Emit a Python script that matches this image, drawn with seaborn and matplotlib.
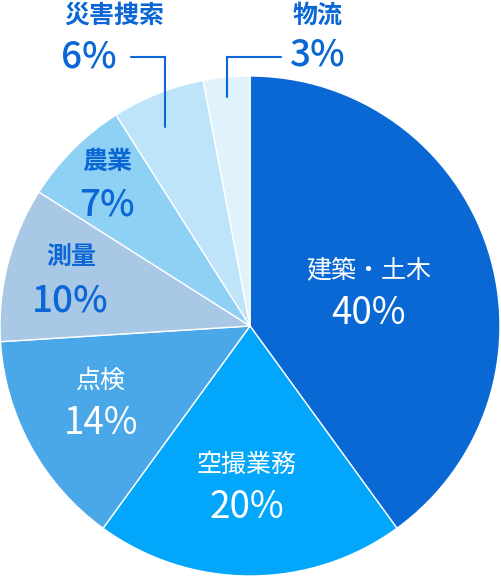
import matplotlib
matplotlib.use("Agg")
import matplotlib.pyplot as plt
import seaborn as sns

sns.set_theme(style="white")
plt.rcParams['font.family'] = ['Noto Sans CJK JP', 'DejaVu Sans']

# データ
categories = ["建築・土木", "空撮業務", "点検", "測量", "農業", "災害捜索", "物流"]
shares = [40, 20, 14, 10, 7, 6, 3]
colors = ["#0a68d4", "#02a6fa", "#4aa8e8", "#a9c8e6", "#8fd0f5", "#bde4f9", "#e0f2fc"]

TEXT_BLUE = "#0b66d6"
CX, CY, SCALE = 250, 326, 250  # 中心とスケール (px)


def px(x, y):
    # 画像のピクセル座標をデータ座標に変換
    return (x - CX) / SCALE, (CY - y) / SCALE


fig = plt.figure(figsize=(5.01, 5.77), dpi=100)
ax = fig.add_axes([0, 0, 1, 1])

ax.pie(shares, colors=colors, startangle=90, counterclock=False, radius=1.0,
       wedgeprops={"edgecolor": "white", "linewidth": 1.0})

# ラベル位置 (名前の中心, パーセントの中心), テキスト色
label_pos = [((369, 270), (369, 313)),
             ((247, 465), (247, 508)),
             ((101, 381), (101, 423)),
             ((71, 257), (70, 301)),
             ((107, 162), (107, 205)),
             ((114, 16), (89, 56)),
             ((318, 16), (318, 55))]
text_colors = ["white", "white", "white", TEXT_BLUE, TEXT_BLUE, TEXT_BLUE, TEXT_BLUE]

for name, val, (p_name, p_val), tc in zip(categories, shares, label_pos, text_colors):
    on_dark = tc == "white"
    ax.text(*px(*p_name), name, ha="center", va="center", fontsize=18,
            color=tc, fontweight="normal" if on_dark else "bold")
    ax.text(*px(*p_val), f"{val}%", ha="center", va="center", fontsize=26.5,
            color=tc, fontweight="normal" if on_dark else "medium")

# 引き出し線
for xs, ys in [([131, 165, 165], [57, 57, 127]), ([281, 227, 227], [57, 57, 97])]:
    pts = [px(x, y) for x, y in zip(xs, ys)]
    ax.plot([p[0] for p in pts], [p[1] for p in pts], color=TEXT_BLUE, lw=1.5,
            solid_joinstyle="miter")

ax.set_aspect("equal")
ax.set_xlim(-CX / SCALE, (501 - CX) / SCALE)
ax.set_ylim(-(577 - CY) / SCALE, CY / SCALE)
ax.axis("off")

fig.savefig("out.png", dpi=100)
plt.close(fig)
